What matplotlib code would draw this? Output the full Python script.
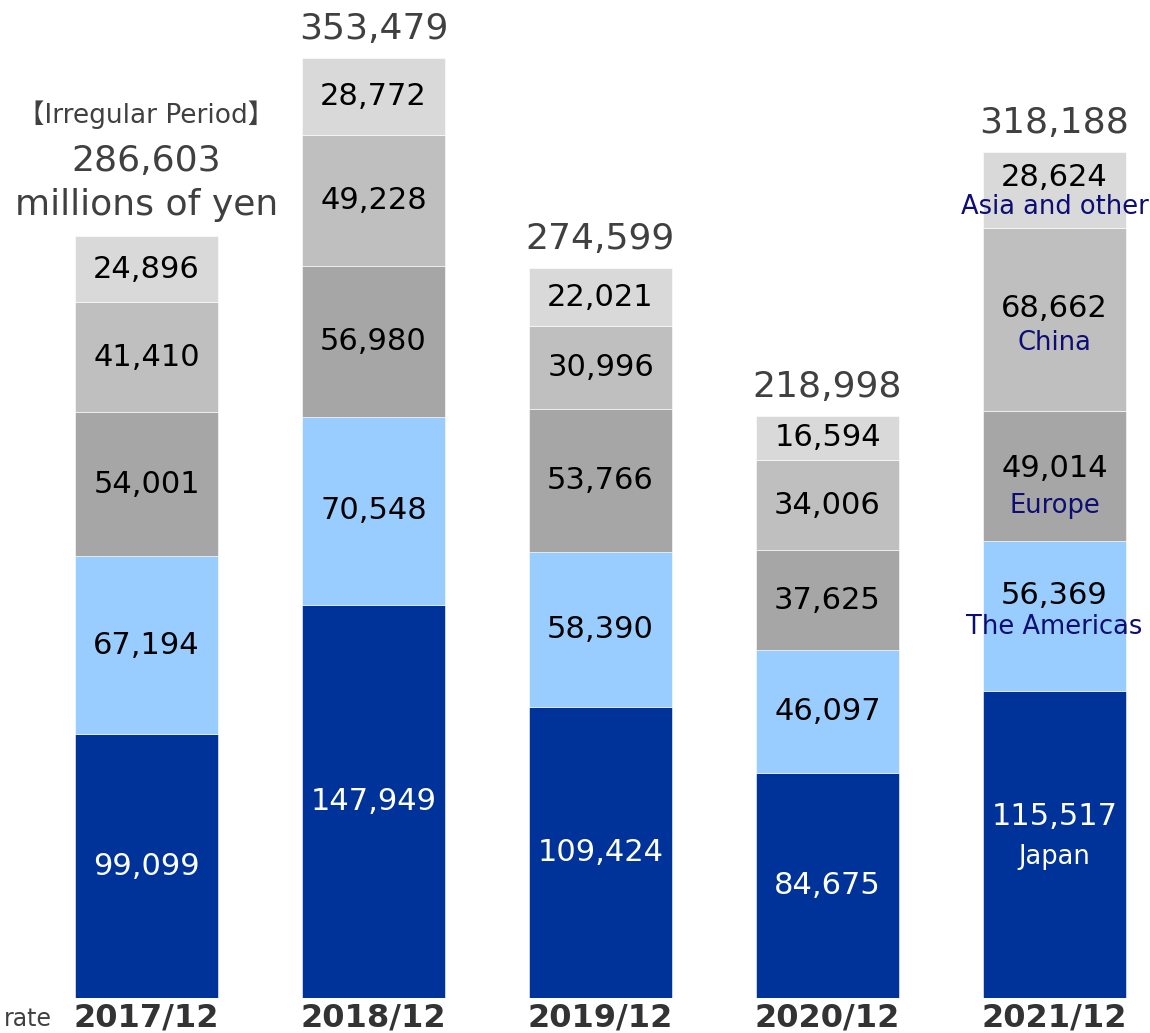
import matplotlib.pyplot as plt

plt.rcParams["font.family"] = ["DejaVu Sans", "Noto Sans CJK JP"]

years = ["2017/12", "2018/12", "2019/12", "2020/12", "2021/12"]
regions = ["Japan", "The Americas", "Europe", "China", "Asia and other"]
japan = [99099, 147949, 109424, 84675, 115517]
americas = [67194, 70548, 58390, 46097, 56369]
europe = [54001, 56980, 53766, 37625, 49014]
china = [41410, 49228, 30996, 34006, 68662]
asia = [24896, 28772, 22021, 16594, 28624]
totals = [286603, 353479, 274599, 218998, 318188]

series = [japan, americas, europe, china, asia]
colors = ["#003399", "#99ccff", "#a6a6a6", "#bfbfbf", "#d9d9d9"]
num_colors = ["white", "black", "black", "black", "black"]
name_colors = ["white", "#0d0d73", "#0d0d73", "#0d0d73", "#0d0d73"]
# offsets (points) of value / region name from segment centre on the last bar
num_dy = [20, 15, 5, 8, 9]
name_dy = [-9, -8, -22, -17, -12]

W, H = 1150, 1033
fig = plt.figure(figsize=(W / 100, H / 100), dpi=100)
ax = fig.add_axes([0, 35 / H, 1, 998 / H])
ax.set_xlim(-146.5 / 227, (W - 146.5) / 227)
ax.set_ylim(0, 998 / 0.002659)

x = list(range(len(years)))
bottoms = [0] * len(years)
for k, vals in enumerate(series):
    ax.bar(x, vals, width=143 / 227, bottom=bottoms, color=colors[k],
           edgecolor="white", linewidth=0.4)
    for i, v in enumerate(vals):
        mid = bottoms[i] + v / 2
        if i == len(years) - 1:
            ax.annotate(f"{v:,}", (i, mid), xytext=(0, num_dy[k]), textcoords="offset points",
                        ha="center", va="center", fontsize=22, color=num_colors[k])
            ax.annotate(regions[k], (i, mid), xytext=(0, name_dy[k]),
                        textcoords="offset points", ha="center", va="center",
                        fontsize=18.5, color=name_colors[k])
        else:
            ax.text(i, mid, f"{v:,}", ha="center", va="center", fontsize=22,
                    color=num_colors[k])
    bottoms = [b + v for b, v in zip(bottoms, vals)]

for i, t in enumerate(totals):
    top = bottoms[i]
    if i == 0:
        ax.annotate("【Irregular Period】", (i, top), xytext=(0, 87), textcoords="offset points",
                    ha="center", va="center", fontsize=19, color="#404040")
        ax.annotate(f"{t:,}", (i, top), xytext=(0, 54), textcoords="offset points",
                    ha="center", va="center", fontsize=26, color="#404040")
        ax.annotate("millions of yen", (i, top), xytext=(0, 22), textcoords="offset points",
                    ha="center", va="center", fontsize=26, color="#404040")
    else:
        ax.annotate(f"{t:,}", (i, top), xytext=(0, 21), textcoords="offset points",
                    ha="center", va="center", fontsize=26, color="#404040")

ax.set_xticks(x)
ax.set_xticklabels(years, fontsize=23, fontweight="bold", color="#333333")
ax.tick_params(axis="x", length=0, pad=3)
ax.set_yticks([])
for s in ax.spines.values():
    s.set_visible(False)

fig.text(52 / W, 1 - 1019 / H, "rate", ha="right", va="center", fontsize=17, color="#404040")

fig.savefig("out.png", dpi=100)
